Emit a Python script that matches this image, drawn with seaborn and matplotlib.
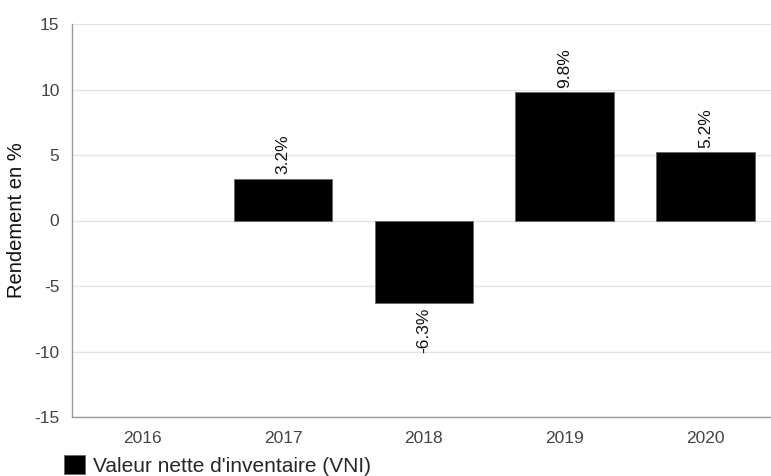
import pandas as pd
import numpy as np
import matplotlib
matplotlib.use("Agg")
import matplotlib.pyplot as plt
import seaborn as sns

# data
years = ["2016", "2017", "2018", "2019", "2020"]
rendement = [np.nan, 3.2, -6.3, 9.8, 5.2]
y_ticks = [-15, -10, -5, 0, 5, 10, 15]
serie = "Valeur nette d'inventaire (VNI)"

df = pd.DataFrame({"annee": years, "rendement": rendement})

sns.set_style("white")
plt.rcParams["font.family"] = ["Liberation Sans", "DejaVu Sans"]
plt.rcParams["axes.unicode_minus"] = False

fig = plt.figure(figsize=(7.71, 4.76), dpi=100)
ax = fig.add_axes([72 / 771, 59 / 476, 699 / 771, 393 / 476])

sns.barplot(data=df, x="annee", y="rendement", color="black", width=0.7,
            edgecolor="#666666", linewidth=0.6, saturation=1, ax=ax,
            label=serie, zorder=3)

# value labels, rotated
for cont in ax.containers:
    labels = ["" if np.isnan(v) else f"{v:.1f}%" for v in cont.datavalues]
    ax.bar_label(cont, labels=labels, rotation=90, padding=3, fontsize=12.5,
                 color="#111111")

ax.set_ylim(-15, 15)
ax.set_yticks(y_ticks)
ax.set_xlim(-0.5, -0.5 + 699 / 140.75)
ax.yaxis.grid(True, color="#e4e4e4", linewidth=1, zorder=0)
ax.xaxis.grid(False)
ax.set_axisbelow(True)

for s in ["top", "right"]:
    ax.spines[s].set_visible(False)
for s in ["left", "bottom"]:
    ax.spines[s].set_color("#9a9a9a")
    ax.spines[s].set_linewidth(1)

ax.tick_params(axis="both", length=0, labelsize=12.5, labelcolor="#444444")
ax.tick_params(axis="y", pad=9)
ax.tick_params(axis="x", pad=10)
ax.set_xlabel("")
ax.set_ylabel("Rendement en %", fontsize=14.5, color="#111111")
ax.yaxis.set_label_coords(-46 / 699, 0.5)

handles, lbls = ax.get_legend_handles_labels()
if ax.get_legend() is not None:
    ax.get_legend().remove()
fig.legend(handles[:1], lbls[:1], loc="lower left",
           bbox_to_anchor=(60 / 771, -4 / 476), frameon=False,
           fontsize=15, handlelength=1.0, handleheight=1.0,
           handletextpad=0.4, borderpad=0.2, borderaxespad=0)

fig.savefig("out.png", dpi=100)
